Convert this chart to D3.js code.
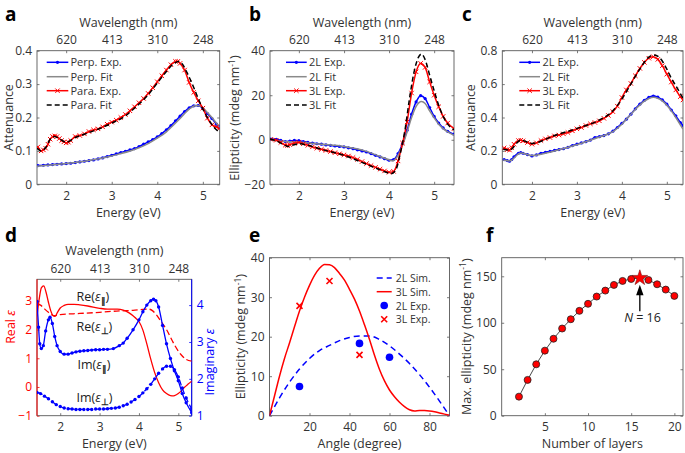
<!DOCTYPE html>
<html><head><meta charset="utf-8">
<script src="https://cdn.jsdelivr.net/npm/d3@7"></script>
<style>
body{margin:0;background:#fff}
svg{display:block}
text{font-family:"Open Sans",sans-serif}
</style>
</head><body>
<svg id="chart" width="685" height="453"></svg>
<script>
// ---------------- DATA ----------------
const energyTicks = [2, 3, 4, 5];
const wavelengthTicks = [620, 413, 310, 248];

// Panel a : attenuance (monolayer)
const aPerpExp = [[1.38,0.056],[1.5,0.057],[1.6,0.058],[1.7,0.059],[1.8,0.060],[1.9,0.061],[2.0,0.062],[2.1,0.063],[2.2,0.065],[2.3,0.067],[2.4,0.069],[2.5,0.071],[2.6,0.073],[2.7,0.076],[2.8,0.079],[2.9,0.083],[3.0,0.087],[3.1,0.091],[3.2,0.095],[3.3,0.099],[3.4,0.103],[3.5,0.107],[3.6,0.113],[3.7,0.120],[3.8,0.127],[3.9,0.134],[4.0,0.142],[4.1,0.152],[4.2,0.163],[4.3,0.176],[4.4,0.190],[4.5,0.204],[4.6,0.218],[4.7,0.229],[4.8,0.235],[4.9,0.236],[5.0,0.227],[5.1,0.212],[5.2,0.197],[5.3,0.180],[5.36,0.172]];
const aPerpFit = [[1.36,0.054],[1.6,0.057],[2.0,0.062],[2.5,0.071],[3.0,0.085],[3.5,0.104],[3.8,0.122],[4.0,0.138],[4.2,0.157],[4.3,0.170],[4.5,0.197],[4.7,0.225],[4.85,0.236],[4.95,0.234],[5.1,0.215],[5.2,0.200],[5.37,0.170]];
const aParaExp = [[1.38,0.112],[1.45,0.100],[1.5,0.103],[1.55,0.108],[1.6,0.120],[1.65,0.135],[1.7,0.143],[1.75,0.145],[1.8,0.143],[1.85,0.137],[1.9,0.131],[1.95,0.127],[2.0,0.124],[2.05,0.126],[2.1,0.131],[2.2,0.143],[2.3,0.146],[2.4,0.151],[2.5,0.158],[2.6,0.163],[2.7,0.166],[2.8,0.172],[2.9,0.180],[3.0,0.186],[3.1,0.192],[3.2,0.200],[3.3,0.209],[3.4,0.220],[3.5,0.232],[3.6,0.244],[3.7,0.257],[3.8,0.272],[3.9,0.289],[4.0,0.307],[4.1,0.325],[4.2,0.342],[4.3,0.358],[4.4,0.368],[4.45,0.368],[4.5,0.362],[4.6,0.342],[4.7,0.305],[4.8,0.275],[4.9,0.250],[5.0,0.228],[5.1,0.198],[5.2,0.178],[5.3,0.172],[5.36,0.167]];
const aParaFit = [[1.36,0.108],[1.45,0.100],[1.55,0.110],[1.65,0.135],[1.75,0.143],[1.85,0.136],[2.0,0.126],[2.2,0.140],[2.4,0.150],[2.7,0.165],[3.0,0.183],[3.3,0.205],[3.5,0.228],[3.8,0.268],[4.0,0.303],[4.2,0.338],[4.35,0.360],[4.47,0.368],[4.55,0.360],[4.65,0.335],[4.8,0.290],[4.95,0.240],[5.1,0.200],[5.25,0.170],[5.37,0.155]];

// Panel b : ellipticity (bilayer / trilayer)
const b2LExp = [[1.38,0.3],[1.5,0.2],[1.6,-0.3],[1.7,-0.8],[1.8,-0.6],[1.9,-0.3],[2.0,-0.4],[2.1,-0.8],[2.2,-1.2],[2.3,-1.5],[2.4,-1.8],[2.5,-2.0],[2.6,-2.3],[2.7,-2.5],[2.8,-2.8],[2.9,-3.0],[3.0,-3.2],[3.1,-3.6],[3.2,-4.0],[3.3,-4.5],[3.4,-5.0],[3.5,-5.5],[3.6,-6.2],[3.7,-7.0],[3.8,-7.7],[3.9,-8.5],[4.0,-9.2],[4.1,-8.9],[4.2,-6.2],[4.3,-1.7],[4.4,4.3],[4.5,11.5],[4.6,17.0],[4.7,19.8],[4.8,18.5],[4.9,14.5],[5.0,10.5],[5.1,7.5],[5.2,5.3],[5.3,3.8],[5.44,2.5]];
const b2LFit = [[1.36,0.0],[1.7,-0.8],[2.0,-1.0],[2.5,-2.0],[3.0,-3.0],[3.5,-5.2],[3.8,-7.5],[4.0,-9.0],[4.08,-9.5],[4.2,-7.0],[4.3,-2.5],[4.4,3.5],[4.5,10.0],[4.6,15.0],[4.72,17.2],[4.8,16.3],[4.9,13.0],[5.0,9.8],[5.1,7.0],[5.2,5.0],[5.3,3.5],[5.44,2.0]];
const b3LExp = [[1.38,0.2],[1.5,-0.2],[1.6,-1.2],[1.7,-2.4],[1.75,-2.6],[1.8,-2.2],[1.9,-1.5],[2.0,-1.2],[2.1,-1.8],[2.2,-2.5],[2.3,-3.2],[2.4,-3.8],[2.5,-4.3],[2.6,-4.8],[2.7,-5.3],[2.8,-5.8],[2.9,-6.3],[3.0,-6.8],[3.1,-7.3],[3.2,-8.0],[3.3,-8.8],[3.4,-9.8],[3.5,-10.7],[3.6,-11.6],[3.7,-12.4],[3.8,-13.2],[3.9,-14.0],[4.0,-14.6],[4.1,-14.2],[4.2,-9.5],[4.3,-1.5],[4.4,8.0],[4.5,21.0],[4.6,30.5],[4.7,34.3],[4.8,32.5],[4.9,26.0],[5.0,20.0],[5.1,14.8],[5.2,10.5],[5.3,7.5],[5.44,5.0]];
const b3LFit = [[1.36,0.3],[1.5,-0.5],[1.65,-2.0],[1.75,-3.0],[1.85,-2.5],[2.0,-1.8],[2.2,-2.5],[2.5,-4.3],[3.0,-7.0],[3.5,-11.0],[3.8,-13.5],[4.0,-15.0],[4.05,-15.2],[4.15,-13.5],[4.25,-6.0],[4.35,4.0],[4.45,18.0],[4.55,30.0],[4.65,37.0],[4.72,38.5],[4.8,36.0],[4.9,29.0],[5.0,22.0],[5.1,15.5],[5.2,10.5],[5.3,7.0],[5.44,4.5]];

// Panel c : attenuance (bilayer / trilayer)
const c2LExp = [[1.38,0.148],[1.45,0.142],[1.5,0.138],[1.55,0.148],[1.6,0.165],[1.7,0.186],[1.75,0.190],[1.8,0.186],[1.9,0.178],[2.0,0.170],[2.1,0.176],[2.2,0.186],[2.3,0.192],[2.4,0.197],[2.5,0.203],[2.6,0.208],[2.7,0.213],[2.8,0.222],[2.9,0.232],[3.0,0.240],[3.1,0.248],[3.2,0.255],[3.3,0.265],[3.4,0.280],[3.5,0.285],[3.6,0.292],[3.7,0.302],[3.8,0.318],[3.9,0.340],[4.0,0.365],[4.1,0.390],[4.2,0.420],[4.3,0.452],[4.4,0.480],[4.5,0.503],[4.6,0.520],[4.7,0.528],[4.8,0.522],[4.9,0.505],[5.0,0.480],[5.1,0.445],[5.2,0.410],[5.3,0.370],[5.36,0.352]];
const c2LFit = [[1.36,0.145],[1.5,0.140],[1.75,0.188],[2.0,0.172],[2.5,0.200],[3.0,0.237],[3.5,0.283],[3.8,0.315],[4.0,0.360],[4.3,0.448],[4.5,0.498],[4.7,0.522],[4.9,0.500],[5.1,0.440],[5.2,0.400],[5.36,0.330]];
const c3LExp = [[1.38,0.218],[1.45,0.208],[1.5,0.205],[1.55,0.220],[1.6,0.240],[1.7,0.262],[1.75,0.264],[1.8,0.260],[1.9,0.250],[2.0,0.240],[2.1,0.248],[2.2,0.262],[2.3,0.272],[2.4,0.280],[2.5,0.290],[2.6,0.295],[2.7,0.302],[2.8,0.310],[2.9,0.320],[3.0,0.332],[3.1,0.340],[3.2,0.352],[3.3,0.362],[3.4,0.370],[3.5,0.380],[3.6,0.395],[3.7,0.412],[3.8,0.435],[3.9,0.468],[4.0,0.520],[4.1,0.565],[4.2,0.604],[4.3,0.650],[4.4,0.694],[4.5,0.730],[4.6,0.755],[4.7,0.764],[4.8,0.748],[4.9,0.710],[5.0,0.660],[5.1,0.612],[5.2,0.565],[5.3,0.525],[5.36,0.505]];
const c3LFit = [[1.36,0.210],[1.5,0.205],[1.75,0.265],[2.0,0.245],[2.5,0.292],[3.0,0.335],[3.5,0.385],[3.8,0.440],[4.0,0.510],[4.2,0.600],[4.4,0.690],[4.6,0.762],[4.72,0.775],[4.85,0.755],[5.0,0.690],[5.1,0.635],[5.2,0.590],[5.36,0.515]];

// Panel d : dielectric function
const dRePar = [[1.41,2.46],[1.47,3.1],[1.52,3.45],[1.58,3.52],[1.64,3.3],[1.7,2.95],[1.76,2.65],[1.82,2.48],[1.87,2.46],[1.93,2.6],[2.0,2.75],[2.1,2.84],[2.2,2.88],[2.35,2.88],[2.5,2.86],[2.7,2.82],[3.0,2.74],[3.2,2.71],[3.45,2.71],[3.6,2.68],[3.75,2.58],[3.9,2.42],[4.0,2.28],[4.1,1.98],[4.2,1.5],[4.3,0.97],[4.4,0.5],[4.5,0.15],[4.6,-0.1],[4.7,-0.23],[4.8,-0.3],[4.88,-0.31],[4.95,-0.27],[5.05,-0.17],[5.15,-0.02],[5.25,0.1],[5.34,0.2]];
const dRePerp = [[1.41,2.9],[1.5,2.85],[1.6,2.72],[1.7,2.6],[1.8,2.5],[1.85,2.48],[2.0,2.52],[2.5,2.56],[3.0,2.6],[3.5,2.65],[3.85,2.67],[4.1,2.7],[4.25,2.71],[4.35,2.65],[4.45,2.5],[4.55,2.3],[4.7,2.0],[4.85,1.6],[5.0,1.25],[5.1,1.08],[5.2,0.96],[5.34,0.9]];
const dImPar = [[1.41,4.1],[1.45,3.4],[1.48,2.95],[1.52,2.82],[1.57,2.9],[1.63,3.3],[1.7,3.6],[1.74,3.67],[1.8,3.5],[1.86,3.15],[1.92,2.9],[2.0,2.74],[2.1,2.67],[2.2,2.67],[2.3,2.7],[2.4,2.73],[2.5,2.75],[2.6,2.76],[2.7,2.77],[2.8,2.78],[2.9,2.79],[3.0,2.79],[3.1,2.8],[3.2,2.8],[3.35,2.82],[3.5,2.9],[3.6,2.97],[3.7,3.1],[3.85,3.33],[4.0,3.6],[4.1,3.82],[4.2,4.0],[4.3,4.12],[4.37,4.16],[4.43,4.12],[4.5,3.95],[4.6,3.45],[4.7,2.95],[4.8,2.55],[4.9,2.22],[5.0,1.95],[5.1,1.6],[5.2,1.35],[5.34,1.08]];
const dImPerp = [[1.41,1.63],[1.5,1.6],[1.6,1.53],[1.7,1.46],[1.8,1.38],[1.9,1.3],[2.0,1.25],[2.1,1.21],[2.2,1.19],[2.3,1.18],[2.4,1.17],[2.5,1.17],[2.6,1.17],[2.7,1.17],[2.8,1.17],[2.9,1.18],[3.0,1.18],[3.1,1.18],[3.2,1.19],[3.3,1.2],[3.4,1.21],[3.5,1.23],[3.6,1.27],[3.7,1.31],[3.8,1.37],[3.9,1.44],[4.0,1.52],[4.1,1.62],[4.2,1.73],[4.3,1.85],[4.4,2.0],[4.5,2.15],[4.6,2.27],[4.7,2.34],[4.8,2.34],[4.9,2.25],[5.0,2.05],[5.1,1.75],[5.2,1.48],[5.34,1.18]];

// Panel e : ellipticity vs. angle
const e2LSim = [[0,0],[5,4.5],[10,8.5],[15,11.8],[20,14.5],[25,16.5],[30,17.8],[35,19.0],[40,19.8],[45,20.2],[50,20.2],[55,19.3],[60,17.7],[65,15.6],[70,13.2],[75,10.4],[80,7.2],[85,3.7],[90,0]];
const e3LSim = [[0,0],[2.5,5],[5,10],[7.5,14.5],[10,18.4],[12.5,22.5],[15,26.5],[17.5,30],[20,33],[22.5,35.5],[25,37.3],[27.5,38.3],[30,38.2],[32.5,37.5],[35,36],[37.5,34.3],[40,32],[42.5,29.5],[45,26.5],[47.5,23],[50,19.3],[52.5,15.3],[55,11.7],[57.5,8.8],[60,6.5],[62.5,4.8],[65,3.4],[67.5,2.3],[70,1.5],[72.5,1.2],[75,1.3],[77.5,1.3],[80,1.2],[82.5,1.0],[85,0.7],[87.5,0.4],[90,0.1]];
const e2LExp = [[15,7.4],[45,18.3],[60,14.8]];
const e3LExp = [[15,27.8],[30,34.1],[45,15.4]];

// Panel f : max ellipticity vs number of layers
const fLayers = [2,3,4,5,6,7,8,9,10,11,12,13,14,15,16,17,18,19,20];
const fMaxEll = [20.5,38.5,55.3,70,82.8,93.8,103.8,112.8,120.4,128.2,134.6,140.7,145,147.1,148.2,146,141.4,135.7,128.9];
const fPeakN = 16;

// ---------------- DRAWING ----------------
const svg = d3.select("#chart");
const TXT = "#333";
const FRAME = "#595959";
const BLUE = "#0000ff", RED = "#ff0000", GRAY = "#8a8a8a";
const fmtInt = d3.format("d");

function styleAxis(g, color) {
  g.select(".domain").remove();
  g.selectAll(".tick line").attr("stroke", color || FRAME).attr("stroke-width", 0.8);
  g.selectAll(".tick text").attr("fill", color || TXT).attr("font-size", 12).attr("font-family", '"Open Sans",sans-serif');
}

let clipN = 0;
function makePanel(p) {
  const x = d3.scaleLinear().domain(p.xd).range([p.l, p.r]);
  const y = d3.scaleLinear().domain(p.yd).range([p.b, p.t]);
  const id = "clip" + (clipN++);
  svg.append("clipPath").attr("id", id).append("rect")
    .attr("x", p.l).attr("y", p.t).attr("width", p.r - p.l).attr("height", p.b - p.t);
  const g = svg.append("g");
  // bottom axis
  g.append("g").attr("transform", `translate(0,${p.b})`)
    .call(d3.axisBottom(x).tickValues(p.xt).tickFormat(fmtInt).tickSize(-2.5).tickPadding(p.bPad))
    .call(a => styleAxis(a));
  // top axis
  if (p.wl) {
    g.append("g").attr("transform", `translate(0,${p.t})`)
      .call(d3.axisTop(x).tickValues(wavelengthTicks.map(w => 1240 / w)).tickFormat(e => Math.round(1240 / e)).tickSize(-2.5).tickPadding(6.7))
      .call(a => styleAxis(a));
    g.append("text").attr("x", (p.l + p.r) / 2).attr("y", p.t - 24).attr("text-anchor", "middle")
      .attr("fill", TXT).attr("font-size", 12.5).text("Wavelength (nm)");
  } else {
    g.append("g").attr("transform", `translate(0,${p.t})`)
      .call(d3.axisTop(x).tickValues(p.xt).tickSize(-2.5).tickFormat(""))
      .call(a => styleAxis(a));
  }
  // left axis
  g.append("g").attr("transform", `translate(${p.l},0)`)
    .call(d3.axisLeft(y).tickValues(p.yt).tickSize(-2.5).tickPadding(5).tickFormat(p.yf || fmtInt))
    .call(a => styleAxis(a, p.lColor));
  // right mirror axis
  if (!p.noRight) {
    g.append("g").attr("transform", `translate(${p.r},0)`)
      .call(d3.axisRight(y).tickValues(p.yt).tickSize(-2.5).tickFormat(""))
      .call(a => styleAxis(a));
  }
  // frame
  g.append("rect").attr("x", p.l).attr("y", p.t).attr("width", p.r - p.l).attr("height", p.b - p.t)
    .attr("fill", "none").attr("stroke", FRAME).attr("stroke-width", 0.9);
  // x label
  g.append("text").attr("x", (p.l + p.r) / 2).attr("y", p.xlY).attr("text-anchor", "middle")
    .attr("fill", TXT).attr("font-size", 12.5).text(p.xl);
  // panel letter
  svg.append("text").attr("x", p.letterX).attr("y", p.letterY).attr("font-family", '"Liberation Serif",serif')
    .attr("font-weight", "bold").attr("font-size", 19).attr("fill", "#000").text(p.letter);
  const plot = svg.append("g").attr("clip-path", `url(#${id})`);
  return { x, y, g, plot };
}

function yLabel(x, y, parts, color) {
  const t = svg.append("text").attr("transform", `translate(${x},${y}) rotate(-90)`)
    .attr("text-anchor", "middle").attr("fill", color || TXT).attr("font-size", 12.5);
  parts.forEach(pt => {
    const s = t.append("tspan").text(pt.t);
    if (pt.dy) s.attr("dy", pt.dy);
    if (pt.fs) s.attr("font-size", pt.fs);
    if (pt.fi) s.attr("font-style", "italic");
  });
  return t;
}
const ellLabel = [{ t: "Ellipticity (mdeg nm" }, { t: "-1", dy: -4.5, fs: 8.5 }, { t: ")", dy: 4.5 }];

function drawLine(pl, x, y, data, o) {
  pl.append("path").datum(data)
    .attr("d", d3.line().x(d => x(d[0])).y(d => y(d[1])).curve(d3.curveMonotoneX))
    .attr("fill", "none").attr("stroke", o.c).attr("stroke-width", o.w || 1.5)
    .attr("stroke-dasharray", o.dash || null);
  if (o.m === "dot") {
    pl.selectAll(null).data(data).enter().append("circle")
      .attr("cx", d => x(d[0])).attr("cy", d => y(d[1])).attr("r", o.r || 1.6).attr("fill", o.c);
  } else if (o.m === "x") {
    const s = o.s || 2.2;
    pl.selectAll(null).data(data).enter().append("path")
      .attr("d", d => { const X = x(d[0]), Y = y(d[1]); return `M${X - s},${Y - s}L${X + s},${Y + s}M${X - s},${Y + s}L${X + s},${Y - s}`; })
      .attr("stroke", o.c).attr("stroke-width", 1);
  }
}

function legend(x0, x1, tx, ys, items, fs) {
  items.forEach((it, i) => {
    const yy = ys[i];
    if (it.line !== false) {
      svg.append("line").attr("x1", x0).attr("x2", x1).attr("y1", yy).attr("y2", yy)
        .attr("stroke", it.c).attr("stroke-width", it.w || 1.5).attr("stroke-dasharray", it.dash || null);
    }
    const xm = (x0 + x1) / 2;
    if (it.m === "dot") svg.append("circle").attr("cx", xm).attr("cy", yy).attr("r", it.r || 1.6).attr("fill", it.c);
    if (it.m === "x") {
      const s = it.s || 2.2;
      svg.append("path").attr("d", `M${xm - s},${yy - s}L${xm + s},${yy + s}M${xm - s},${yy + s}L${xm + s},${yy - s}`)
        .attr("stroke", it.c).attr("stroke-width", it.sw || 1);
    }
    svg.append("text").attr("x", tx).attr("y", yy + 4).attr("fill", TXT).attr("font-size", fs || 11).text(it.t);
  });
}

const legRows = [62.3, 76.7, 90.7, 105];

// ---- Panel a ----
{
  const P = makePanel({ l: 37, r: 219.7, t: 50.7, b: 184.3, xd: [1.36, 5.37], yd: [0, 0.4], xt: energyTicks,
    yt: [0, 0.1, 0.2, 0.3, 0.4], yf: d => d === 0 ? "0" : d3.format(".1f")(d), wl: true, bPad: 7.0,
    xl: "Energy (eV)", xlY: 217, letter: "a", letterX: 5, letterY: 20.5 });
  drawLine(P.plot, P.x, P.y, aPerpExp, { c: BLUE, m: "dot" });
  drawLine(P.plot, P.x, P.y, aPerpFit, { c: GRAY });
  drawLine(P.plot, P.x, P.y, aParaExp, { c: RED, m: "x" });
  drawLine(P.plot, P.x, P.y, aParaFit, { c: "#000", dash: "5,3" });
  yLabel(12.5, 117.5, [{ t: "Attenuance" }]);
  legend(46.7, 68.3, 70.5, legRows, [
    { t: "Perp. Exp.", c: BLUE, m: "dot" }, { t: "Perp. Fit", c: GRAY },
    { t: "Para. Exp.", c: RED, m: "x" }, { t: "Para. Fit", c: "#000", dash: "5,3" }]);
}

// ---- Panel b ----
{
  const P = makePanel({ l: 270, r: 454, t: 50.7, b: 184.3, xd: [1.36, 5.44], yd: [-20, 40], xt: energyTicks,
    yt: [-20, 0, 20, 40], wl: true, bPad: 7.0,
    xl: "Energy (eV)", xlY: 217, letter: "b", letterX: 249, letterY: 20.5 });
  drawLine(P.plot, P.x, P.y, b2LExp, { c: BLUE, m: "dot" });
  drawLine(P.plot, P.x, P.y, b2LFit, { c: GRAY });
  drawLine(P.plot, P.x, P.y, b3LExp, { c: RED, m: "x" });
  drawLine(P.plot, P.x, P.y, b3LFit, { c: "#000", dash: "5,3" });
  yLabel(239, 118, ellLabel);
  legend(286, 306.7, 309, legRows, [
    { t: "2L Exp.", c: BLUE, m: "dot" }, { t: "2L Fit", c: GRAY },
    { t: "3L Exp.", c: RED, m: "x" }, { t: "3L Fit", c: "#000", dash: "5,3" }]);
}

// ---- Panel c ----
{
  const P = makePanel({ l: 502.3, r: 683, t: 50.7, b: 184.3, xd: [1.34, 5.36], yd: [0, 0.8], xt: energyTicks,
    yt: [0, 0.2, 0.4, 0.6, 0.8], yf: d => d === 0 ? "0" : d3.format(".1f")(d), wl: true, bPad: 7.0,
    xl: "Energy (eV)", xlY: 217, letter: "c", letterX: 462, letterY: 20.5 });
  drawLine(P.plot, P.x, P.y, c2LExp, { c: BLUE, m: "dot" });
  drawLine(P.plot, P.x, P.y, c2LFit, { c: GRAY });
  drawLine(P.plot, P.x, P.y, c3LExp, { c: RED, m: "x" });
  drawLine(P.plot, P.x, P.y, c3LFit, { c: "#000", dash: "5,3" });
  yLabel(475, 117.5, [{ t: "Attenuance" }]);
  legend(519.3, 540, 542.5, legRows, [
    { t: "2L Exp.", c: BLUE, m: "dot" }, { t: "2L Fit", c: GRAY },
    { t: "3L Exp.", c: RED, m: "x" }, { t: "3L Fit", c: "#000", dash: "5,3" }]);
}

// ---- Panel d ----
{
  const P = makePanel({ l: 37, r: 191.7, t: 279.3, b: 415.7, xd: [1.41, 5.34], yd: [-1, 3.75], xt: energyTicks,
    yt: [-1, 0, 1, 2, 3], wl: true, bPad: 7.0, lColor: RED, noRight: true,
    xl: "Energy (eV)", xlY: 447.5, letter: "d", letterX: 5, letterY: 242 });
  const yR = d3.scaleLinear().domain([1, 4.7]).range([415.7, 279.3]);
  P.g.append("g").attr("transform", `translate(191.7,0)`)
    .call(d3.axisRight(yR).tickValues([1, 2, 3, 4]).tickFormat(fmtInt).tickSize(-2.5).tickPadding(5))
    .call(a => styleAxis(a, BLUE));
  // coloured y axis lines
  P.g.append("line").attr("x1", 37).attr("x2", 37).attr("y1", 279.3).attr("y2", 415.7).attr("stroke", RED).attr("stroke-width", 1);
  P.g.append("line").attr("x1", 191.7).attr("x2", 191.7).attr("y1", 279.3).attr("y2", 415.7).attr("stroke", BLUE).attr("stroke-width", 1);
  drawLine(P.plot, P.x, P.y, dRePar, { c: RED, w: 1.3 });
  drawLine(P.plot, P.x, P.y, dRePerp, { c: RED, w: 1.3, dash: "6,3" });
  drawLine(P.plot, P.x, yR, dImPar, { c: BLUE, w: 1.3, m: "dot", r: 1.7 });
  drawLine(P.plot, P.x, yR, dImPerp, { c: BLUE, w: 1.3, dash: "6,3", m: "dot", r: 1.7 });
  yLabel(15, 327, [{ t: "Real " }, { t: "ε", fi: true }], RED);
  yLabel(213.5, 362, [{ t: "Imaginary " }, { t: "ε", fi: true }], BLUE);
  const lab = (x, y, pre, sub) => {
    const t = svg.append("text").attr("x", x).attr("y", y).attr("fill", "#222").attr("font-size", 12.5);
    t.append("tspan").text(pre + "(");
    t.append("tspan").attr("font-style", "italic").text("ε");
    t.append("tspan").attr("dy", 3).attr("font-size", 8.5).attr("font-weight", "bold").text(sub);
    t.append("tspan").attr("dy", -3).text(")");
  };
  lab(76.5, 301, "Re", "∥");
  lab(76.5, 331, "Re", "⊥");
  lab(77.5, 369, "Im", "∥");
  lab(76.5, 401.5, "Im", "⊥");
}

// ---- Panel e ----
{
  const P = makePanel({ l: 269.5, r: 449.5, t: 257.7, b: 415.7, xd: [0, 90], yd: [0, 40], xt: [20, 40, 60, 80],
    yt: [0, 10, 20, 30, 40], bPad: 7.0,
    xl: "Angle (degree)", xlY: 447.5, letter: "e", letterX: 249, letterY: 242 });
  drawLine(P.plot, P.x, P.y, e2LSim, { c: BLUE, dash: "6,4" });
  drawLine(P.plot, P.x, P.y, e3LSim, { c: RED });
  svg.selectAll(null).data(e2LExp).enter().append("circle")
    .attr("cx", d => P.x(d[0])).attr("cy", d => P.y(d[1])).attr("r", 3.8).attr("fill", BLUE);
  svg.selectAll(null).data(e3LExp).enter().append("path")
    .attr("d", d => { const X = P.x(d[0]), Y = P.y(d[1]), s = 3; return `M${X - s},${Y - s}L${X + s},${Y + s}M${X - s},${Y + s}L${X + s},${Y - s}`; })
    .attr("stroke", RED).attr("stroke-width", 1.6);
  yLabel(245, 336.7, ellLabel);
  legend(376.7, 391.7, 395.7, [277.9, 291.7, 305.5, 319.3], [
    { t: "2L Sim.", c: BLUE, dash: "6,4" }, { t: "3L Sim.", c: RED },
    { t: "2L Exp.", c: BLUE, line: false, m: "dot", r: 3.8 }, { t: "3L Exp.", c: RED, line: false, m: "x", s: 3, sw: 1.6 }], 10.5);
}

// ---- Panel f ----
{
  const P = makePanel({ l: 501.7, r: 683, t: 257.7, b: 415.7, xd: [0, 21], yd: [0, 170], xt: [5, 10, 15, 20],
    yt: [0, 50, 100, 150], bPad: 7.0,
    xl: "Number of layers", xlY: 447.5, letter: "f", letterX: 486, letterY: 242 });
  const pts = fLayers.map((n, i) => [n, fMaxEll[i]]);
  svg.append("path").datum(pts)
    .attr("d", d3.line().x(d => P.x(d[0])).y(d => P.y(d[1])))
    .attr("fill", "none").attr("stroke", "#333").attr("stroke-width", 0.9);
  svg.selectAll(null).data(pts.filter(d => d[0] !== fPeakN)).enter().append("circle")
    .attr("cx", d => P.x(d[0])).attr("cy", d => P.y(d[1])).attr("r", 3.5)
    .attr("fill", RED).attr("stroke", "#222").attr("stroke-width", 0.8);
  const pk = pts.find(d => d[0] === fPeakN);
  svg.append("path").attr("d", d3.symbol(d3.symbolStar, 75)())
    .attr("transform", `translate(${P.x(pk[0])},${P.y(pk[1])})`)
    .attr("fill", RED).attr("stroke", "#7a1010").attr("stroke-width", 0.6);
  // arrow
  const ax = P.x(fPeakN);
  svg.append("line").attr("x1", ax).attr("x2", ax).attr("y1", P.y(112.5)).attr("y2", P.y(130))
    .attr("stroke", "#000").attr("stroke-width", 1.3);
  svg.append("path").attr("d", `M${ax},${P.y(141)}L${ax - 3.7},${P.y(129.5)}L${ax + 3.7},${P.y(129.5)}Z`).attr("fill", "#000");
  const t = svg.append("text").attr("x", 642.5).attr("y", 321.5).attr("text-anchor", "middle").attr("fill", "#222").attr("font-size", 12.5);
  t.append("tspan").attr("font-style", "italic").text("N");
  t.append("tspan").text(" = 16");
  yLabel(470.5, 336.7, [{ t: "Max. ellipticity (mdeg nm" }, { t: "-1", dy: -4.5, fs: 8.5 }, { t: ")", dy: 4.5 }]);
}
</script>
</body></html>
